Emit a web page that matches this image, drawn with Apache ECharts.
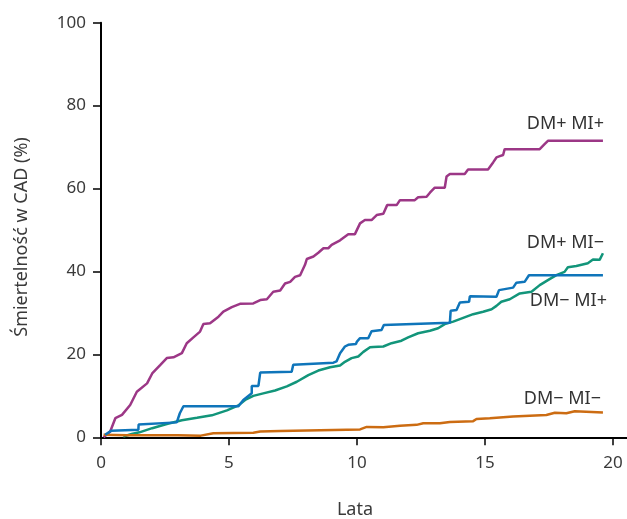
<!DOCTYPE html>
<html><head><meta charset="utf-8">
<script src="https://cdn.jsdelivr.net/npm/echarts@6/dist/echarts.min.js"></script>
<style>html,body{margin:0;padding:0;background:#fff}#c{width:627px;height:519px}</style>
</head><body><div id="c"></div>
<script>
const seriesNames = ['DM+ MI+', 'DM+ MI−', 'DM− MI+', 'DM− MI−'];
const xTicks = [0, 5, 10, 15, 20];
const yTicks = [0, 20, 40, 60, 80, 100];
const yTitle = 'Śmiertelność w CAD (%)';
const xTitle = 'Lata';
const dmPlusMiPlus = [[0.1,0],[0.17,0.3],[0.36,1.4],[0.56,4.6],[0.82,5.4],[1.14,7.8],[1.4,11],[1.8,13],[2.0,15.4],[2.31,17.4],[2.57,19.1],[2.83,19.3],[3.16,20.3],[3.35,22.7],[3.61,24.1],[3.87,25.5],[4.0,27.3],[4.26,27.5],[4.59,29.1],[4.78,30.3],[5.11,31.4],[5.43,32.2],[5.95,32.3],[6.22,33.1],[6.48,33.3],[6.73,35.1],[7.0,35.4],[7.19,37.1],[7.39,37.5],[7.58,38.7],[7.78,39.1],[7.97,41.6],[8.04,43.0],[8.3,43.6],[8.49,44.5],[8.69,45.6],[8.88,45.6],[9.01,46.4],[9.34,47.5],[9.66,49.0],[9.92,49.0],[10.12,51.6],[10.31,52.4],[10.57,52.4],[10.77,53.6],[11.03,53.9],[11.18,56.0],[11.55,56.0],[11.68,57.2],[12.26,57.2],[12.39,57.9],[12.72,58.0],[12.85,59.0],[13.04,60.2],[13.43,60.2],[13.5,62.9],[13.63,63.5],[14.21,63.5],[14.34,64.6],[15.12,64.6],[15.32,66.3],[15.45,67.5],[15.58,67.8],[15.71,68.1],[15.77,69.5],[17.14,69.5],[17.33,70.7],[17.46,71.5],[19.61,71.5]];
const dmPlusMiMinus = [[0.87,0.2],[1.2,0.8],[1.5,1.2],[2.0,2.2],[2.57,3.2],[3.16,4.1],[3.75,4.7],[4.33,5.3],[4.92,6.5],[5.37,7.7],[5.63,9.0],[5.95,10.0],[6.34,10.6],[6.8,11.3],[7.26,12.3],[7.65,13.4],[8.1,15.0],[8.49,16.1],[8.95,16.9],[9.34,17.3],[9.53,18.2],[9.79,19.1],[10.05,19.5],[10.25,20.6],[10.51,21.7],[10.64,21.8],[11.03,21.9],[11.35,22.7],[11.74,23.3],[12.0,24.1],[12.39,25.1],[12.85,25.7],[13.17,26.3],[13.43,27.3],[13.76,27.9],[14.15,28.8],[14.54,29.7],[14.93,30.3],[15.26,30.9],[15.45,31.7],[15.64,32.7],[15.97,33.3],[16.36,34.7],[16.82,35.1],[17.14,36.7],[17.46,37.9],[17.79,39.1],[18.11,39.9],[18.24,41.0],[18.57,41.3],[19.02,42.0],[19.22,42.9],[19.48,42.8],[19.61,44.4]];
const dmMinusMiPlus = [[0.16,0.6],[0.41,1.6],[1.46,1.8],[1.47,3.1],[2.96,3.6],[3.08,5.8],[3.22,7.5],[5.37,7.5],[5.56,9.0],[5.89,10.6],[5.89,12.4],[6.15,12.4],[6.22,15.6],[7.45,15.8],[7.51,17.5],[9.08,18.0],[9.2,18.3],[9.34,20.3],[9.53,21.9],[9.66,22.3],[9.96,22.5],[10.0,23.1],[10.12,23.9],[10.44,23.9],[10.57,25.6],[10.96,25.9],[11.05,27.1],[13.63,27.6],[13.66,30.5],[13.89,30.7],[14.02,32.5],[14.38,32.7],[14.41,34.0],[15.45,33.9],[15.55,35.5],[16.1,36.1],[16.23,37.3],[16.55,37.5],[16.72,39.1],[19.61,39.1]];
const dmMinusMiMinus = [[0.1,0.6],[1.0,0.5],[2.0,0.5],[3.0,0.5],[3.9,0.4],[4.39,1.0],[5.95,1.1],[6.22,1.4],[7.0,1.5],[8.56,1.7],[10.12,1.9],[10.38,2.5],[11.03,2.4],[11.68,2.8],[12.33,3.0],[12.59,3.4],[13.24,3.4],[13.63,3.7],[14.54,3.9],[14.67,4.4],[15.19,4.6],[16.1,5.0],[17.4,5.4],[17.73,5.9],[18.18,5.8],[18.51,6.3],[19.61,6.0]];

const FONT = 'Noto Sans';
const colors = ['#9c3786', '#12957a', '#0f75ba', '#cc6c12'];
const datasets = [dmPlusMiPlus, dmPlusMiMinus, dmMinusMiPlus, dmMinusMiMinus];
const chart = echarts.init(document.getElementById('c'), null, {renderer: 'canvas'});
const labelPos = [[604, 124], [604, 243], [607, 301], [601, 399]];
chart.setOption({
  animation: false,
  grid: {left: 101, right: 0, top: 22.7, bottom: 81.7, containLabel: false},
  xAxis: {
    type: 'value', min: 0, max: 20.55,
    axisLine: {show: true, lineStyle: {color: '#000', width: 2}},
    axisTick: {show: true, length: 8, lineStyle: {color: '#000', width: 1.5}, customValues: xTicks},
    axisLabel: {customValues: xTicks, color: '#3a3a3a', fontSize: 17, fontFamily: FONT, margin: 17},
    splitLine: {show: false}
  },
  yAxis: {
    type: 'value', min: 0, max: 100, interval: 20,
    axisLine: {show: true, lineStyle: {color: '#000', width: 2}},
    axisTick: {show: true, length: 8, lineStyle: {color: '#000', width: 1.5}, customValues: yTicks},
    axisLabel: {customValues: yTicks, color: '#3a3a3a', fontSize: 17, fontFamily: FONT, margin: 15},
    splitLine: {show: false}
  },
  graphic: seriesNames.map((n, i) => ({
    type: 'text', x: labelPos[i][0], y: labelPos[i][1],
    style: {text: n, fill: '#333', font: '18px "' + FONT + '"', textAlign: 'right', textVerticalAlign: 'middle'}
  })).concat([{
    type: 'text', x: 355, y: 510,
    style: {text: xTitle, fill: '#3a3a3a', font: '18px "' + FONT + '"', textAlign: 'center', textVerticalAlign: 'middle'}
  }, {
    type: 'text', x: 22, y: 237, rotation: Math.PI / 2,
    style: {text: yTitle, fill: '#3a3a3a', font: '18px "' + FONT + '"', textAlign: 'center', textVerticalAlign: 'middle'}
  }]),
  series: datasets.map((d, i) => ({
    name: seriesNames[i], type: 'line', data: d, showSymbol: false, symbol: 'none',
    lineStyle: {color: colors[i], width: 2.5}, z: 3 + (i === 2 ? 1 : 0)
  }))
});
</script></body></html>
